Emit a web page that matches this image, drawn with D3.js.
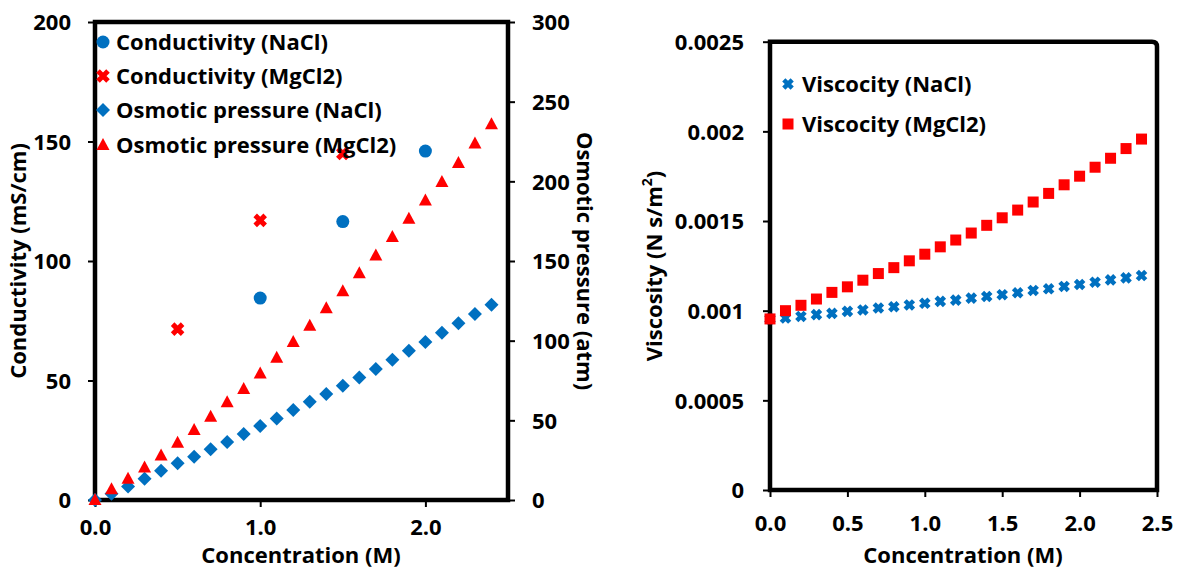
<!DOCTYPE html>
<html><head><meta charset="utf-8">
<script src="https://cdn.jsdelivr.net/npm/d3@7"></script>
<style>
body{margin:0;background:#fff;}
svg text{font-family:"Open Sans",sans-serif;font-weight:700;fill:#000;}
</style></head>
<body><svg id="c" width="1179" height="569"></svg>
<script>
// ---------- data ----------
const concentration = [0.0,0.1,0.2,0.3,0.4,0.5,0.6,0.7,0.8,0.9,1.0,1.1,1.2,1.3,1.4,1.5,1.6,1.7,1.8,1.9,2.0,2.1,2.2,2.3,2.4];
const condNaClConc = [1.0,1.5,2.0];
const condNaCl = [84.5,116.5,146];
const condMgCl2Conc = [0.5,1.0,1.5];
const condMgCl2 = [71.5,117,145];
const osmNaCl = [0,4,8.4,13.4,18.4,23,27.2,31.8,36.4,41.4,46.5,51.2,56.5,61.7,66.5,71.7,76.9,82.2,88,93.7,99.2,105,110.9,116.8,122.6];
const osmMgCl2 = [0,6.7,13.4,20.4,28,36,44,52.3,61.4,69.6,79.4,89.3,99.1,109.4,120.3,131,142.3,153.5,165,176.5,188,199.6,211.5,223.7,235.8];
const viscNaCl = [0.000954,0.000959,0.000968,0.000978,0.000985,0.000996,0.001004,0.001015,0.001022,0.001032,0.001041,0.001052,0.001059,0.00107,0.001079,0.001089,0.0011,0.001113,0.001122,0.001135,0.001146,0.001159,0.001172,0.001183,0.001196];
const viscMgCl2 = [0.000954,0.001,0.00103,0.001065,0.001102,0.001133,0.00117,0.001207,0.00124,0.001278,0.001315,0.001356,0.001394,0.001433,0.001476,0.001518,0.001561,0.001606,0.001654,0.001702,0.00175,0.0018,0.00185,0.001904,0.001957];
const leftXTicks = [0,1,2];
const leftXTickLabels = ["0.0","1.0","2.0"];
const condTicks = [0,50,100,150,200];
const osmTicks = [0,50,100,150,200,250,300];
const rightXTicks = [0,0.5,1,1.5,2,2.5];
const rightXTickLabels = ["0.0","0.5","1.0","1.5","2.0","2.5"];
const viscTicks = [0,0.0005,0.001,0.0015,0.002,0.0025];
const viscTickLabels = ["0","0.0005","0.001","0.0015","0.002","0.0025"];
const legendLeft = ["Conductivity (NaCl)","Conductivity (MgCl2)","Osmotic pressure (NaCl)","Osmotic pressure (MgCl2)"];
const legendRight = ["Viscocity (NaCl)","Viscocity (MgCl2)"];

const BLUE = "#0070C0", RED = "#FF0000";
const FS = 22;
const svg = d3.select("#c");

// marker drawers
function circle(g, x, y){ g.append("circle").attr("cx",x).attr("cy",y).attr("r",6.5).attr("fill",BLUE); }
function cross(g, x, y, col, h, w){
  g.append("path").attr("d",`M${x-h},${y-h}L${x+h},${y+h}M${x-h},${y+h}L${x+h},${y-h}`)
   .attr("stroke",col).attr("stroke-width",w).attr("fill","none");
}
function diamond(g, x, y){ g.append("path").attr("d",`M${x},${y-7}L${x+7},${y}L${x},${y+7}L${x-7},${y}Z`).attr("fill",BLUE); }
function triangle(g, x, y){ g.append("path").attr("d",`M${x},${y-7}L${x+6.5},${y+5}L${x-6.5},${y+5}Z`).attr("fill",RED); }
function square(g, x, y){ g.append("rect").attr("x",x-5.5).attr("y",y-5.5).attr("width",11).attr("height",11).attr("fill",RED); }

function styleAxis(a){
  a.select(".domain").remove();
  a.selectAll("line").attr("stroke","#000").attr("stroke-width",2);
  a.selectAll("text").attr("font-size",FS).attr("font-family","Open Sans").attr("font-weight",700).attr("dy","0.35em");
}

// ================= LEFT CHART =================
const xL = d3.scaleLinear().domain([0,2.5]).range([95,508]);
const yL = d3.scaleLinear().domain([0,200]).range([500,22]);
const yR = d3.scaleLinear().domain([0,300]).range([500,22]);

const gL = svg.append("g");
const axL = gL.append("g").attr("transform","translate(95,0)")
  .call(d3.axisLeft(yL).tickValues(condTicks).tickSize(7).tickPadding(17).tickFormat(d3.format("d")));
const axR = gL.append("g").attr("transform","translate(508,0)")
  .call(d3.axisRight(yR).tickValues(osmTicks).tickSize(7).tickPadding(17).tickFormat(d3.format("d")));
const axB = gL.append("g").attr("transform","translate(0,500)")
  .call(d3.axisBottom(xL).tickValues(leftXTicks).tickSize(7).tickPadding(28).tickFormat((d,i)=>leftXTickLabels[i]));
[axL,axR,axB].forEach(styleAxis);
axB.selectAll("text").attr("dy","0");
gL.append("rect").attr("x",95).attr("y",22).attr("width",413).attr("height",478)
  .attr("fill","none").attr("stroke","#000").attr("stroke-width",4.5);

const mL = gL.append("g");
condNaClConc.forEach((c,i)=>circle(mL, xL(c), yL(condNaCl[i])));
condMgCl2Conc.forEach((c,i)=>cross(mL, xL(c), yL(condMgCl2[i]), RED, 5, 5));
concentration.forEach((c,i)=>diamond(mL, xL(c), yR(osmNaCl[i])));
concentration.forEach((c,i)=>triangle(mL, xL(c), yR(osmMgCl2[i])));

const lgL = gL.append("g");
const lgY = [42,76,110,145];
circle(lgL,103,lgY[0]); cross(lgL,103,lgY[1],RED,5,5); diamond(lgL,103,lgY[2]); triangle(lgL,103,lgY[3]);
legendLeft.forEach((t,i)=>lgL.append("text").attr("x",116).attr("y",lgY[i]).attr("dy","0.35em").attr("font-size",FS).text(t));

gL.append("text").attr("transform","translate(18,261) rotate(-90)").attr("text-anchor","middle").attr("dy","0.35em").attr("font-size",FS).text("Conductivity (mS/cm)");
gL.append("text").attr("transform","translate(585,261) rotate(90)").attr("text-anchor","middle").attr("dy","0.35em").attr("font-size",FS).text("Osmotic pressure (atm)");
gL.append("text").attr("x",301).attr("y",563).attr("text-anchor","middle").attr("font-size",FS).text("Concentration (M)");

// ================= RIGHT CHART =================
const xV = d3.scaleLinear().domain([0,2.5]).range([770,1157]);
const yV = d3.scaleLinear().domain([0,0.0025]).range([490,41.7]);
const gR = svg.append("g");
const axV = gR.append("g").attr("transform","translate(770,0)")
  .call(d3.axisLeft(yV).tickValues(viscTicks).tickSize(7).tickPadding(19).tickFormat((d,i)=>viscTickLabels[i]));
const axVB = gR.append("g").attr("transform","translate(0,490)")
  .call(d3.axisBottom(xV).tickValues(rightXTicks).tickSize(7).tickPadding(34).tickFormat((d,i)=>rightXTickLabels[i]));
[axV,axVB].forEach(styleAxis);
axVB.selectAll("text").attr("dy","0");
gR.append("path").attr("d","M770,41.7L1152,41.7Q1157,41.7 1157,46.7L1157,490L770,490Z")
  .attr("fill","none").attr("stroke","#000").attr("stroke-width",4.5);

const mR = gR.append("g");
concentration.forEach((c,i)=>cross(mR, xV(c), yV(viscNaCl[i]), BLUE, 4.2, 4.5));
concentration.forEach((c,i)=>square(mR, xV(c), yV(viscMgCl2[i])));

const lgR = gR.append("g");
const lgRY = [84,124];
cross(lgR,788,lgRY[0],BLUE,4.2,4.5); square(lgR,788,lgRY[1]);
legendRight.forEach((t,i)=>lgR.append("text").attr("x",802).attr("y",lgRY[i]).attr("dy","0.35em").attr("font-size",FS).text(t));

const vt = gR.append("text").attr("transform","translate(654,266) rotate(-90)").attr("text-anchor","middle").attr("dy","0.35em").attr("font-size",FS);
vt.append("tspan").text("Viscosity (N s/m");
vt.append("tspan").attr("font-size",14).attr("dy","-0.7em").text("2");
vt.append("tspan").attr("dy","0.45em").text(")");
gR.append("text").attr("x",963).attr("y",563).attr("text-anchor","middle").attr("font-size",FS).text("Concentration (M)");
</script></body></html>
